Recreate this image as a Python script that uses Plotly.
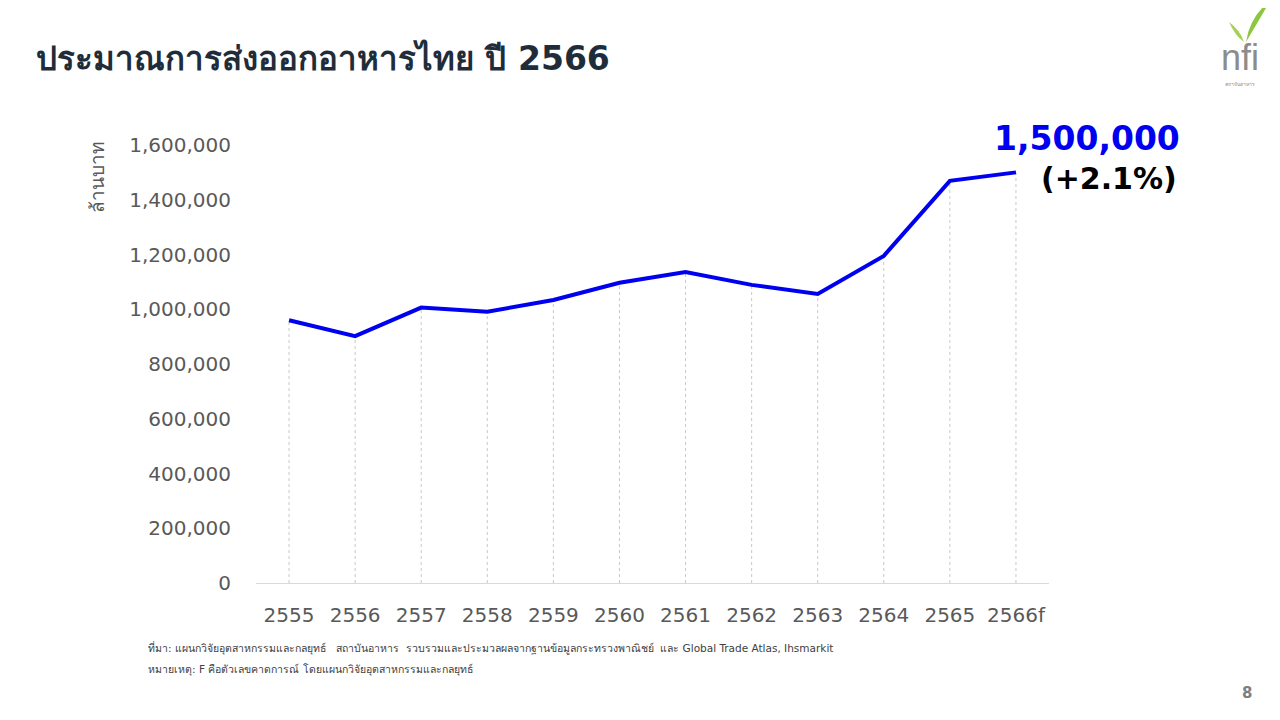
import plotly.graph_objects as go

years = ['2555', '2556', '2557', '2558', '2559', '2560', '2561', '2562', '2563', '2564', '2565', '2566f']
export_value = [960000, 902000, 1006000, 991000, 1034000, 1097000, 1136000, 1089000, 1056000, 1195000, 1469000, 1500000]
y_ticks = [0, 200000, 400000, 600000, 800000, 1000000, 1200000, 1400000, 1600000]

title_text = 'ประมาณการส่งออกอาหารไทย ปี 2566'
y_title = 'ล้านบาท'
source_note = 'ที่มา: แผนกวิจัยอุตสาหกรรมและกลยุทธ์   สถาบันอาหาร  รวบรวมและประมวลผลจากฐานข้อมูลกระทรวงพาณิชย์  และ Global Trade Atlas, Ihsmarkit'
remark_note = 'หมายเหตุ: F คือตัวเลขคาดการณ์ โดยแผนกวิจัยอุตสาหกรรมและกลยุทธ์'

growth = (export_value[-1] / export_value[-2] - 1) * 100

# plot area in page pixels; the html body adds an 8px margin
OFF = 8
L, R, T, B = 256, 1049, 145, 583


def px(x):
    return (x - L) / (R - L)


def py(y):
    return (B - y) / (B - T)


# drop lines from each point to the axis
drop_x, drop_y = [], []
for yr, v in zip(years, export_value):
    drop_x += [yr, yr, None]
    drop_y += [0, v, None]

fig = go.Figure()
fig.add_trace(go.Scatter(x=drop_x, y=drop_y, mode='lines',
                         line=dict(color='#c8c8c8', width=1, dash='dot'),
                         hoverinfo='skip', showlegend=False))
fig.add_trace(go.Scatter(x=years, y=export_value, mode='lines',
                         line=dict(color='#0000f0', width=4),
                         showlegend=False))

font_main = 'DejaVu Sans'

fig.update_layout(
    width=1280, height=720,
    paper_bgcolor='white', plot_bgcolor='white',
    margin=dict(l=L - OFF, r=1280 - (R - OFF), t=T - OFF, b=720 - (B - OFF)),
    font=dict(family=font_main, color='#595959'),
    xaxis=dict(type='category', range=[-0.5, len(years) - 0.5],
               showgrid=False, showline=True, linecolor='#d9d9d9', linewidth=1,
               ticks='', tickfont=dict(size=20, color='#595959'),
               ticklabelstandoff=14, zeroline=False),
    yaxis=dict(range=[0, 1600000], tickvals=y_ticks,
               ticktext=[f'{t:,}' for t in y_ticks],
               showgrid=False, showline=False, zeroline=False, ticks='',
               tickfont=dict(size=20, color='#595959'),
               ticklabelstandoff=24),
)

annotations = [
    dict(text=f'<b>{title_text}</b>', x=px(34), y=py(58), xref='paper', yref='paper',
         xanchor='left', yanchor='middle', showarrow=False,
         font=dict(size=33, color='#1f2d3a', family=font_main)),
    dict(text=y_title, x=px(97), y=py(177), xref='paper', yref='paper',
         textangle=-90, xanchor='center', yanchor='middle', showarrow=False,
         font=dict(size=19, color='#595959', family=font_main)),
    dict(text=f'<b>{export_value[-1]:,}</b>', x=px(1182), y=py(138), xref='paper', yref='paper',
         xanchor='right', yanchor='middle', showarrow=False,
         font=dict(size=33, color='#0000f0', family=font_main)),
    dict(text=f'<b>(+{growth:.1f}%)</b>', x=px(1179), y=py(178), xref='paper', yref='paper',
         xanchor='right', yanchor='middle', showarrow=False,
         font=dict(size=30, color='#000000', family=font_main)),
    dict(text=source_note, x=px(146), y=py(648), xref='paper', yref='paper',
         xanchor='left', yanchor='middle', showarrow=False,
         font=dict(size=10.5, color='#404040', family=font_main)),
    dict(text=remark_note, x=px(146), y=py(669), xref='paper', yref='paper',
         xanchor='left', yanchor='middle', showarrow=False,
         font=dict(size=10.5, color='#404040', family=font_main)),
    dict(text='<b>8</b>', x=px(1254), y=py(693), xref='paper', yref='paper',
         xanchor='right', yanchor='middle', showarrow=False,
         font=dict(size=15, color='#7f7f7f', family=font_main)),
    # logo text
    dict(text='nfi', x=px(1240), y=py(57), xref='paper', yref='paper',
         xanchor='center', yanchor='middle', showarrow=False,
         font=dict(size=36, color='#8c8c8c', family='Liberation Sans')),
    dict(text='สถาบันอาหาร', x=px(1240), y=py(84), xref='paper', yref='paper',
         xanchor='center', yanchor='middle', showarrow=False,
         font=dict(size=5, color='#8c8c8c', family=font_main)),
]
fig.update_layout(annotations=annotations)


def leaf(points):
    pts = [f'{px(x):.4f},{py(y):.4f}' for x, y in points]
    return 'M ' + pts[0] + ' Q ' + pts[1] + ' ' + pts[2] + ' Q ' + pts[3] + ' ' + pts[0] + ' Z'


fig.update_layout(shapes=[
    dict(type='path', xref='paper', yref='paper', line=dict(width=0), fillcolor='#8dc63f',
         path=leaf([(1246, 42), (1250, 16), (1270, 1), (1258, 22)])),
    dict(type='path', xref='paper', yref='paper', line=dict(width=0), fillcolor='#a5d15a',
         path=leaf([(1244, 42), (1240, 30), (1229, 22), (1235, 36)])),
])

fig.write_html('out.html')
